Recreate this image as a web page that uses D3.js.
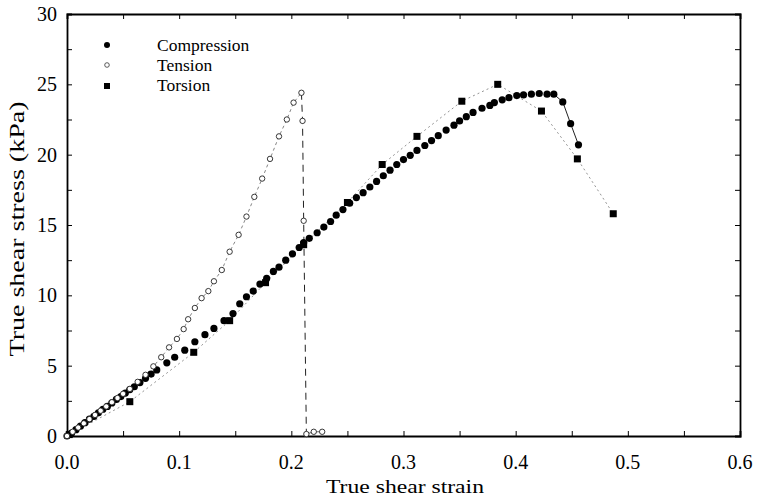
<!DOCTYPE html>
<html><head><meta charset="utf-8">
<script src="https://cdn.jsdelivr.net/npm/d3@7"></script>
<style>body{margin:0;background:#fff}svg{display:block}</style>
</head><body>
<svg id="c" width="760" height="496"></svg>
<script>
const xTicks = [0, 0.1, 0.2, 0.3, 0.4, 0.5, 0.6];
const yTicks = [0, 5, 10, 15, 20, 25, 30];
const seriesNames = ["Compression", "Tension", "Torsion"];

const compStrain = [0.000,0.004,0.008,0.012,0.016,0.020,0.024,0.028,0.032,0.036,0.040,0.044,0.048,0.052,0.056,0.060,0.065,0.070,0.075,0.080,0.089,0.096,0.105,0.114,0.123,0.131,0.140,0.148,0.154,0.160,0.166,0.172,0.178,0.184,0.189,0.195,0.201,0.207,0.211,0.216,0.223,0.229,0.235,0.240,0.246,0.252,0.258,0.264,0.270,0.276,0.282,0.288,0.294,0.300,0.306,0.312,0.319,0.325,0.331,0.338,0.345,0.350,0.356,0.362,0.370,0.377,0.381,0.388,0.394,0.401,0.407,0.414,0.421,0.428,0.434,0.442,0.449,0.456];
const compStress = [0.0,0.2,0.45,0.7,0.95,1.2,1.4,1.65,1.9,2.1,2.35,2.6,2.8,3.05,3.3,3.5,3.8,4.1,4.4,4.7,5.2,5.6,6.1,6.7,7.2,7.65,8.2,8.7,9.4,9.9,10.3,10.8,11.2,11.7,12.0,12.5,12.95,13.4,13.75,14.05,14.45,14.85,15.25,15.7,16.1,16.55,16.95,17.3,17.7,18.1,18.5,18.9,19.3,19.65,19.95,20.3,20.65,21.0,21.35,21.75,22.1,22.4,22.7,23.0,23.3,23.5,23.7,23.9,24.05,24.2,24.25,24.3,24.35,24.3,24.3,23.75,22.2,20.7];

const tensStrain = [0.000,0.005,0.010,0.015,0.020,0.025,0.030,0.035,0.040,0.045,0.050,0.056,0.063,0.070,0.077,0.084,0.091,0.098,0.104,0.108,0.114,0.120,0.126,0.131,0.138,0.145,0.153,0.160,0.167,0.174,0.181,0.189,0.196,0.202,0.209,0.210,0.211];
const tensStress = [0.0,0.3,0.6,0.9,1.2,1.5,1.8,2.1,2.4,2.7,3.0,3.35,3.85,4.35,4.95,5.6,6.3,6.9,7.6,8.3,9.1,9.8,10.3,11.0,11.8,13.1,14.3,15.6,17.0,18.3,19.7,21.3,22.5,23.7,24.4,22.4,15.3];
const tensFailStrain = [0.2134,0.220,0.2275];
const tensFailStress = [0.14,0.3,0.3];

const torsStrain = [0.002,0.056,0.113,0.145,0.177,0.211,0.250,0.281,0.312,0.352,0.384,0.423,0.455,0.487];
const torsStress = [0.1,2.44,5.95,8.2,10.9,13.6,16.6,19.3,21.3,23.8,25.0,23.1,19.7,15.8];

const svg = d3.select("#c");
const L = 67, R = 740, T = 14, B = 436;
const x = d3.scaleLinear().domain([0, 0.6]).range([L, R]);
const y = d3.scaleLinear().domain([0, 30]).range([B, T]);
const font = "'Liberation Serif', 'Times New Roman', serif";

const minorX = d3.range(0, 0.6001, 0.05);
const minorY = d3.range(0, 30.001, 2.5);

// axes
const gx = svg.append("g").attr("transform", `translate(0,${B})`)
  .call(d3.axisBottom(x).tickValues(minorX).tickSize(-5).tickFormat(""));
const gxt = svg.append("g").attr("transform", `translate(0,${T})`)
  .call(d3.axisTop(x).tickValues(minorX).tickSize(-5).tickFormat(""));
const gy = svg.append("g").attr("transform", `translate(${L},0)`)
  .call(d3.axisLeft(y).tickValues(minorY).tickSize(-5).tickFormat(""));
const gyr = svg.append("g").attr("transform", `translate(${R},0)`)
  .call(d3.axisRight(y).tickValues(minorY).tickSize(-5).tickFormat(""));
[gx, gxt, gy, gyr].forEach(g => {
  g.select(".domain").attr("stroke", "#000").attr("stroke-width", 1.8);
  g.selectAll(".tick line").attr("stroke", "#000").attr("stroke-width", 1);
});

// tick labels
svg.append("g").selectAll("text").data(xTicks).join("text")
  .attr("x", d => x(d)).attr("y", 469).attr("text-anchor", "middle")
  .attr("font-family", font).attr("font-size", 20).text(d => d.toFixed(1));
svg.append("g").selectAll("text").data(yTicks).join("text")
  .attr("x", 57).attr("y", d => y(d) + 7).attr("text-anchor", "end")
  .attr("font-family", font).attr("font-size", 20).text(d => d);

svg.append("text").attr("x", 405).attr("y", 493).attr("text-anchor", "middle")
  .attr("font-family", font).attr("font-size", 19)
  .attr("textLength", 158).attr("lengthAdjust", "spacingAndGlyphs").text("True shear strain");
svg.append("text").attr("transform", "translate(24,229) rotate(-90)").attr("text-anchor", "middle")
  .attr("font-family", font).attr("font-size", 21)
  .attr("textLength", 255).attr("lengthAdjust", "spacingAndGlyphs").text("True shear stress (kPa)");

const comp = compStrain.map((s, i) => [s, compStress[i]]);
const tens = tensStrain.map((s, i) => [s, tensStress[i]]);
const tensFail = tensFailStrain.map((s, i) => [s, tensFailStress[i]]);
const tors = torsStrain.map((s, i) => [s, torsStress[i]]);
const line = d3.line().x(d => x(d[0])).y(d => y(d[1]));

// lines
svg.append("path").datum(tors).attr("d", line).attr("fill", "none")
  .attr("stroke", "#888").attr("stroke-width", 0.9).attr("stroke-dasharray", "2,3");
svg.append("path").datum(tens.slice(0, 35)).attr("d", line).attr("fill", "none")
  .attr("stroke", "#777").attr("stroke-width", 0.9).attr("stroke-dasharray", "3,3");
svg.append("path").datum([tens[34], tens[35], tens[36], tensFail[0]]).attr("d", line).attr("fill", "none")
  .attr("stroke", "#222").attr("stroke-width", 1).attr("stroke-dasharray", "7,5");
svg.append("path").datum(tensFail).attr("d", line).attr("fill", "none")
  .attr("stroke", "#444").attr("stroke-width", 0.8);
svg.append("path").datum(comp.slice(-4)).attr("d", line).attr("fill", "none")
  .attr("stroke", "#222").attr("stroke-width", 1);

// markers
svg.append("g").selectAll("rect").data(tors).join("rect")
  .attr("x", d => x(d[0]) - 3.5).attr("y", d => y(d[1]) - 3.5)
  .attr("width", 7).attr("height", 7).attr("fill", "#000");
svg.append("g").selectAll("circle").data(comp).join("circle")
  .attr("cx", d => x(d[0])).attr("cy", d => y(d[1])).attr("r", 3.6).attr("fill", "#000");
svg.append("g").selectAll("circle").data(tens.concat(tensFail)).join("circle")
  .attr("cx", d => x(d[0])).attr("cy", d => y(d[1])).attr("r", 2.7)
  .attr("fill", "#fff").attr("stroke", "#222").attr("stroke-width", 0.9);

// legend
const lg = svg.append("g");
const ly = [51, 71, 91];
lg.append("circle").attr("cx", 107).attr("cy", 45).attr("r", 3).attr("fill", "#000");
lg.append("circle").attr("cx", 107).attr("cy", 65).attr("r", 2.3).attr("fill", "#fff").attr("stroke", "#333").attr("stroke-width", 0.8);
lg.append("rect").attr("x", 104).attr("y", 83).attr("width", 6).attr("height", 6).attr("fill", "#000");
lg.selectAll("text").data(seriesNames).join("text")
  .attr("x", 157).attr("y", (d, i) => ly[i]).attr("font-family", font).attr("font-size", 17.5).text(d => d);
</script>
</body></html>
